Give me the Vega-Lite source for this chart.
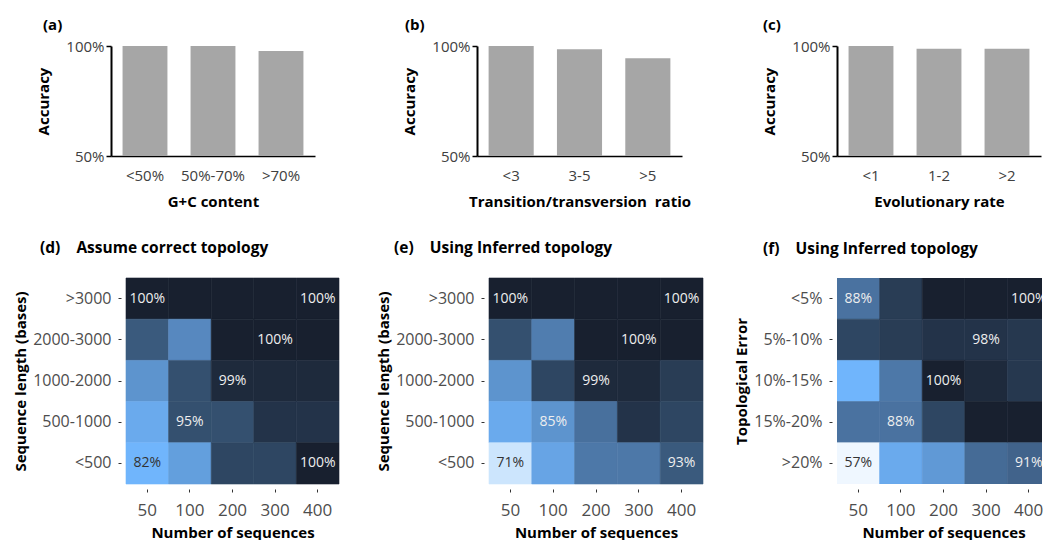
{
  "$schema": "https://vega.github.io/schema/vega-lite/v6.json",
  "background": "white",
  "padding": {"left": 13, "top": 18, "right": 0, "bottom": 0},
  "config": {
    "view": {"stroke": null},
    "font": "Open Sans",
    "title": {"font": "Open Sans", "fontWeight": "bold", "color": "#000000", "anchor": "start", "frame": "group"},
    "axis": {"labelFont": "Open Sans", "titleFont": "Open Sans", "grid": false, "titleFontWeight": "bold", "titleColor": "#000000"}
  },
  "datasets": {
    "a": [{"cat": "<50%", "acc": 100}, {"cat": "50%-70%", "acc": 100}, {"cat": ">70%", "acc": 97.7}],
    "b": [{"cat": "<3", "acc": 100}, {"cat": "3-5", "acc": 98.5}, {"cat": ">5", "acc": 94.4}],
    "c": [{"cat": "<1", "acc": 100}, {"cat": "1-2", "acc": 98.8}, {"cat": ">2", "acc": 98.8}],
    "d": [
      {"len": ">3000", "n": "50", "value": 100, "label": "100%"},
      {"len": ">3000", "n": "100", "value": 100},
      {"len": ">3000", "n": "200", "value": 100},
      {"len": ">3000", "n": "300", "value": 100},
      {"len": ">3000", "n": "400", "value": 100, "label": "100%"},
      {"len": "2000-3000", "n": "50", "value": 93},
      {"len": "2000-3000", "n": "100", "value": 86},
      {"len": "2000-3000", "n": "200", "value": 100},
      {"len": "2000-3000", "n": "300", "value": 100, "label": "100%"},
      {"len": "2000-3000", "n": "400", "value": 100},
      {"len": "1000-2000", "n": "50", "value": 85},
      {"len": "1000-2000", "n": "100", "value": 95},
      {"len": "1000-2000", "n": "200", "value": 99, "label": "99%"},
      {"len": "1000-2000", "n": "300", "value": 99},
      {"len": "1000-2000", "n": "400", "value": 99},
      {"len": "500-1000", "n": "50", "value": 83},
      {"len": "500-1000", "n": "100", "value": 95, "label": "95%"},
      {"len": "500-1000", "n": "200", "value": 95},
      {"len": "500-1000", "n": "300", "value": 98},
      {"len": "500-1000", "n": "400", "value": 98},
      {"len": "<500", "n": "50", "value": 82, "label": "82%"},
      {"len": "<500", "n": "100", "value": 84},
      {"len": "<500", "n": "200", "value": 96},
      {"len": "<500", "n": "300", "value": 96},
      {"len": "<500", "n": "400", "value": 100, "label": "100%"}
    ],
    "e": [
      {"len": ">3000", "n": "50", "value": 100, "label": "100%"},
      {"len": ">3000", "n": "100", "value": 100},
      {"len": ">3000", "n": "200", "value": 100},
      {"len": ">3000", "n": "300", "value": 100},
      {"len": ">3000", "n": "400", "value": 100, "label": "100%"},
      {"len": "2000-3000", "n": "50", "value": 95},
      {"len": "2000-3000", "n": "100", "value": 87},
      {"len": "2000-3000", "n": "200", "value": 100},
      {"len": "2000-3000", "n": "300", "value": 100, "label": "100%"},
      {"len": "2000-3000", "n": "400", "value": 100},
      {"len": "1000-2000", "n": "50", "value": 85},
      {"len": "1000-2000", "n": "100", "value": 96},
      {"len": "1000-2000", "n": "200", "value": 99, "label": "99%"},
      {"len": "1000-2000", "n": "300", "value": 99},
      {"len": "1000-2000", "n": "400", "value": 97},
      {"len": "500-1000", "n": "50", "value": 83},
      {"len": "500-1000", "n": "100", "value": 85, "label": "85%"},
      {"len": "500-1000", "n": "200", "value": 88.5},
      {"len": "500-1000", "n": "300", "value": 98},
      {"len": "500-1000", "n": "400", "value": 96},
      {"len": "<500", "n": "50", "value": 71, "label": "71%"},
      {"len": "<500", "n": "100", "value": 83.5},
      {"len": "<500", "n": "200", "value": 87.5},
      {"len": "<500", "n": "300", "value": 87.5},
      {"len": "<500", "n": "400", "value": 93, "label": "93%"}
    ],
    "f": [
      {"err": "<5%", "n": "50", "value": 88, "label": "88%"},
      {"err": "<5%", "n": "100", "value": 97},
      {"err": "<5%", "n": "200", "value": 100},
      {"err": "<5%", "n": "300", "value": 100},
      {"err": "<5%", "n": "400", "value": 100, "label": "100%"},
      {"err": "5%-10%", "n": "50", "value": 96},
      {"err": "5%-10%", "n": "100", "value": 97},
      {"err": "5%-10%", "n": "200", "value": 98},
      {"err": "5%-10%", "n": "300", "value": 98, "label": "98%"},
      {"err": "5%-10%", "n": "400", "value": 97.5},
      {"err": "10%-15%", "n": "50", "value": 82},
      {"err": "10%-15%", "n": "100", "value": 87.5},
      {"err": "10%-15%", "n": "200", "value": 100, "label": "100%"},
      {"err": "10%-15%", "n": "300", "value": 99},
      {"err": "10%-15%", "n": "400", "value": 97.5},
      {"err": "15%-20%", "n": "50", "value": 88},
      {"err": "15%-20%", "n": "100", "value": 88, "label": "88%"},
      {"err": "15%-20%", "n": "200", "value": 96},
      {"err": "15%-20%", "n": "300", "value": 100},
      {"err": "15%-20%", "n": "400", "value": 100},
      {"err": ">20%", "n": "50", "value": 57, "label": "57%"},
      {"err": ">20%", "n": "100", "value": 83},
      {"err": ">20%", "n": "200", "value": 84.5},
      {"err": ">20%", "n": "300", "value": 89.5},
      {"err": ">20%", "n": "400", "value": 91, "label": "91%"}
    ]
  },
  "columns": 3,
  "bounds": "flush",
  "align": "each",
  "spacing": {"row": 122, "column": 134},
  "concat": [
    {
      "width": 204, "height": 110,
      "title": {"text": "(a)", "dx": -68, "fontSize": 15, "offset": 6},
      "data": {"name": "a"},
      "mark": {"type": "bar", "color": "#a6a6a6"},
      "encoding": {
        "x": {"field": "cat", "type": "nominal", "sort": null,
              "scale": {"paddingInner": 0.34, "paddingOuter": 0.17},
              "axis": {"title": "G+C content", "labelAngle": 0, "ticks": false, "tickSize": 0, "labelPadding": 12, "domainColor": "#000000", "domainWidth": 1.5, "labelFontSize": 15, "labelColor": "#404040", "titleFontSize": 15, "titlePadding": 11}},
        "y": {"field": "acc", "type": "quantitative",
              "scale": {"domain": [50, 100], "nice": false, "zero": false},
              "axis": {"title": "Accuracy", "values": [50, 100], "labelExpr": "datum.value + '%'", "domainColor": "#000000", "domainWidth": 2, "tickColor": "#000000", "tickWidth": 1.5, "tickSize": 5, "labelPadding": 2, "labelFontSize": 15, "labelColor": "#404040", "titleFontSize": 15, "titlePadding": 14}},
        "y2": {"datum": 50}
      }
    },
    {
      "width": 209, "height": 110,
      "title": {"text": "(b)", "dx": -68, "fontSize": 15, "offset": 6},
      "data": {"name": "b"},
      "mark": {"type": "bar", "color": "#a6a6a6"},
      "encoding": {
        "x": {"field": "cat", "type": "nominal", "sort": null,
              "scale": {"paddingInner": 0.34, "paddingOuter": 0.17, "range": [4, 209]},
              "axis": {"title": "Transition/transversion\u00a0\u00a0ratio", "labelAngle": 0, "ticks": false, "tickSize": 0, "labelPadding": 12, "domainColor": "#000000", "domainWidth": 1.5, "labelFontSize": 15, "labelColor": "#404040", "titleFontSize": 15, "titlePadding": 11}},
        "y": {"field": "acc", "type": "quantitative",
              "scale": {"domain": [50, 100], "nice": false, "zero": false},
              "axis": {"title": "Accuracy", "offset": -4, "values": [50, 100], "labelExpr": "datum.value + '%'", "domainColor": "#000000", "domainWidth": 2, "tickColor": "#000000", "tickWidth": 1.5, "tickSize": 5, "labelPadding": 2, "labelFontSize": 15, "labelColor": "#404040", "titleFontSize": 15, "titlePadding": 14}},
        "y2": {"datum": 50}
      }
    },
    {
      "width": 204, "height": 110,
      "title": {"text": "(c)", "dx": -74, "fontSize": 15, "offset": 6},
      "data": {"name": "c"},
      "mark": {"type": "bar", "color": "#a6a6a6"},
      "encoding": {
        "x": {"field": "cat", "type": "nominal", "sort": null,
              "scale": {"paddingInner": 0.34, "paddingOuter": 0.17},
              "axis": {"title": "Evolutionary rate", "labelAngle": 0, "ticks": false, "tickSize": 0, "labelPadding": 12, "domainColor": "#000000", "domainWidth": 1.5, "labelFontSize": 15, "labelColor": "#404040", "titleFontSize": 15, "titlePadding": 11}},
        "y": {"field": "acc", "type": "quantitative",
              "scale": {"domain": [50, 100], "nice": false, "zero": false},
              "axis": {"title": "Accuracy", "values": [50, 100], "labelExpr": "datum.value + '%'", "domainColor": "#000000", "domainWidth": 2, "tickColor": "#000000", "tickWidth": 1.5, "tickSize": 5, "labelPadding": 2, "labelFontSize": 15, "labelColor": "#404040", "titleFontSize": 15, "titlePadding": 14}},
        "y2": {"datum": 50}
      }
    },
    {
      "width": 228, "height": 206,
      "title": {"text": "(d)\u00a0\u00a0\u00a0\u00a0Assume correct topology", "dx": -71, "fontSize": 15.5, "offset": 21},
      "data": {"name": "d"},
      "encoding": {
        "x": {"field": "n", "type": "nominal", "sort": ["50", "100", "200", "300", "400"],
              "scale": {"range": [15, 228]},
              "axis": {"title": "Number of sequences", "labelAngle": 0, "domain": false, "tickSize": 3, "tickColor": "#333333", "offset": 5, "labelPadding": 10, "labelFontSize": 17, "labelColor": "#4d4d4d", "titleFontSize": 15, "titlePadding": 7}},
        "y": {"field": "len", "type": "nominal", "sort": [">3000", "2000-3000", "1000-2000", "500-1000", "<500"],
              "axis": {"title": "Sequence length (bases)", "domain": false, "tickSize": 3, "tickColor": "#333333", "offset": -10, "labelPadding": 7, "labelFontSize": 16, "labelColor": "#4d4d4d", "titleFontSize": 15, "titlePadding": 4}}
      },
      "layer": [
        {"mark": {"type": "rect", "strokeWidth": 0.6},
         "encoding": {
           "color": {"field": "value", "type": "quantitative", "legend": null,
             "scale": {"domain": [57, 71, 82, 88, 95, 100], "range": ["#eff7ff", "#cce5fd", "#70b5fc", "#4a72a0", "#34506f", "#18202f"], "interpolate": "rgb"}},
           "stroke": {"field": "value", "type": "quantitative", "legend": null,
             "scale": {"domain": [57, 71, 82, 88, 95, 100], "range": ["#eff7ff", "#cce5fd", "#70b5fc", "#4a72a0", "#34506f", "#18202f"], "interpolate": "rgb"}}}},
        {"transform": [{"filter": "datum.label"}],
         "mark": {"type": "text", "fontSize": 14, "font": "Open Sans"},
         "encoding": {"text": {"field": "label"},
           "color": {"condition": {"test": "datum.value < 83", "value": "#333333"}, "value": "#eeeeee"}}}
      ]
    },
    {
      "width": 230, "height": 206,
      "title": {"text": "(e)\u00a0\u00a0\u00a0\u00a0Using Inferred topology", "dx": -79, "fontSize": 15.5, "offset": 21},
      "data": {"name": "e"},
      "encoding": {
        "x": {"field": "n", "type": "nominal", "sort": ["50", "100", "200", "300", "400"],
              "scale": {"range": [16, 230]},
              "axis": {"title": "Number of sequences", "labelAngle": 0, "domain": false, "tickSize": 3, "tickColor": "#333333", "offset": 5, "labelPadding": 10, "labelFontSize": 17, "labelColor": "#4d4d4d", "titleFontSize": 15, "titlePadding": 7}},
        "y": {"field": "len", "type": "nominal", "sort": [">3000", "2000-3000", "1000-2000", "500-1000", "<500"],
              "axis": {"title": "Sequence length (bases)", "domain": false, "tickSize": 3, "tickColor": "#333333", "offset": -11, "labelPadding": 7, "labelFontSize": 16, "labelColor": "#4d4d4d", "titleFontSize": 15, "titlePadding": 4}}
      },
      "layer": [
        {"mark": {"type": "rect", "strokeWidth": 0.6},
         "encoding": {
           "color": {"field": "value", "type": "quantitative", "legend": null,
             "scale": {"domain": [57, 71, 82, 88, 95, 100], "range": ["#eff7ff", "#cce5fd", "#70b5fc", "#4a72a0", "#34506f", "#18202f"], "interpolate": "rgb"}},
           "stroke": {"field": "value", "type": "quantitative", "legend": null,
             "scale": {"domain": [57, 71, 82, 88, 95, 100], "range": ["#eff7ff", "#cce5fd", "#70b5fc", "#4a72a0", "#34506f", "#18202f"], "interpolate": "rgb"}}}},
        {"transform": [{"filter": "datum.label"}],
         "mark": {"type": "text", "fontSize": 14, "font": "Open Sans"},
         "encoding": {"text": {"field": "label"},
           "color": {"condition": {"test": "datum.value < 83", "value": "#333333"}, "value": "#eeeeee"}}}
      ]
    },
    {
      "width": 205, "height": 206,
      "title": {"text": "(f)\u00a0\u00a0\u00a0\u00a0Using Inferred topology", "dx": -74, "fontSize": 15.5, "offset": 21},
      "data": {"name": "f"},
      "encoding": {
        "x": {"field": "n", "type": "nominal", "sort": ["50", "100", "200", "300", "400"],
              "scale": {"range": [0, 213]},
              "axis": {"title": "Number of sequences", "labelAngle": 0, "domain": false, "tickSize": 3, "tickColor": "#333333", "offset": 5, "labelPadding": 10, "labelFontSize": 17, "labelColor": "#4d4d4d", "titleFontSize": 15, "titlePadding": 7}},
        "y": {"field": "err", "type": "nominal", "sort": ["<5%", "5%-10%", "10%-15%", "15%-20%", ">20%"],
              "axis": {"title": "Topological Error", "domain": false, "tickSize": 3, "tickColor": "#333333", "offset": 5, "labelPadding": 7, "labelFontSize": 16, "labelColor": "#4d4d4d", "titleFontSize": 15, "titlePadding": 4}}
      },
      "layer": [
        {"mark": {"type": "rect", "clip": true, "strokeWidth": 0.6},
         "encoding": {
           "color": {"field": "value", "type": "quantitative", "legend": null,
             "scale": {"domain": [57, 71, 82, 88, 95, 100], "range": ["#eff7ff", "#cce5fd", "#70b5fc", "#4a72a0", "#34506f", "#18202f"], "interpolate": "rgb"}},
           "stroke": {"field": "value", "type": "quantitative", "legend": null,
             "scale": {"domain": [57, 71, 82, 88, 95, 100], "range": ["#eff7ff", "#cce5fd", "#70b5fc", "#4a72a0", "#34506f", "#18202f"], "interpolate": "rgb"}}}},
        {"transform": [{"filter": "datum.label"}],
         "mark": {"type": "text", "fontSize": 14, "font": "Open Sans", "clip": true},
         "encoding": {"text": {"field": "label"},
           "color": {"condition": {"test": "datum.value < 83", "value": "#333333"}, "value": "#eeeeee"}}}
      ]
    }
  ]
}
